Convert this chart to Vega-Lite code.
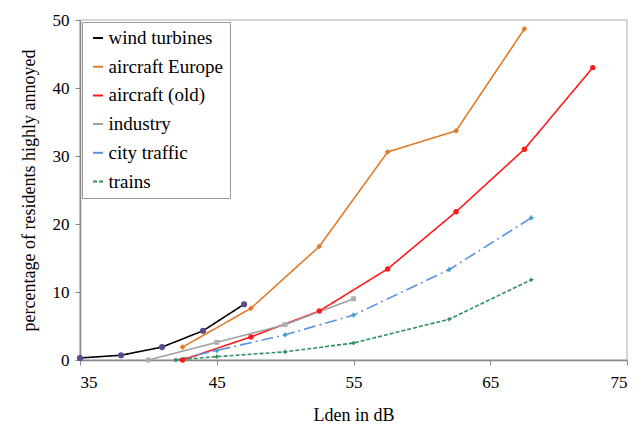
{
  "$schema": "https://vega.github.io/schema/vega-lite/v6.json",
  "width": 547,
  "height": 340,
  "autosize": {"type": "none"},
  "padding": {"left": 80, "top": 20, "right": 17, "bottom": 67},
  "background": "white",
  "config": {
    "font": "Liberation Serif",
    "view": {"stroke": "#c8c8c8", "strokeWidth": 1.5},
    "axis": {
      "labelFont": "Liberation Serif",
      "titleFont": "Liberation Serif",
      "labelFontSize": 17,
      "titleFontSize": 18,
      "titleFontWeight": "normal",
      "labelColor": "#000",
      "titleColor": "#000",
      "domainColor": "#888",
      "domainWidth": 1.5,
      "tickColor": "#888",
      "tickSize": 5,
      "grid": false
    },
    "legend": {
      "labelFont": "Liberation Serif",
      "labelFontSize": 19,
      "labelColor": "#000"
    }
  },
  "resolve": {"legend": {"shape": "independent", "fill": "independent", "size": "independent", "strokeWidth": "independent"}},
  "data": {
    "values": [
      {"series": "wind turbines", "x": 35, "y": 0.3},
      {"series": "wind turbines", "x": 38, "y": 0.7},
      {"series": "wind turbines", "x": 41, "y": 1.9},
      {"series": "wind turbines", "x": 44, "y": 4.3},
      {"series": "wind turbines", "x": 47, "y": 8.2},
      {"series": "aircraft Europe", "x": 42.5, "y": 1.9},
      {"series": "aircraft Europe", "x": 47.5, "y": 7.6},
      {"series": "aircraft Europe", "x": 52.5, "y": 16.7},
      {"series": "aircraft Europe", "x": 57.5, "y": 30.6},
      {"series": "aircraft Europe", "x": 62.5, "y": 33.7},
      {"series": "aircraft Europe", "x": 67.5, "y": 48.7},
      {"series": "aircraft (old)", "x": 42.5, "y": 0},
      {"series": "aircraft (old)", "x": 47.5, "y": 3.4},
      {"series": "aircraft (old)", "x": 52.5, "y": 7.2},
      {"series": "aircraft (old)", "x": 57.5, "y": 13.4},
      {"series": "aircraft (old)", "x": 62.5, "y": 21.8},
      {"series": "aircraft (old)", "x": 67.5, "y": 31},
      {"series": "aircraft (old)", "x": 72.5, "y": 43},
      {"series": "industry", "x": 40, "y": 0},
      {"series": "industry", "x": 45, "y": 2.6},
      {"series": "industry", "x": 50, "y": 5.2},
      {"series": "industry", "x": 55, "y": 9},
      {"series": "city traffic", "x": 42, "y": 0},
      {"series": "city traffic", "x": 45, "y": 1.4},
      {"series": "city traffic", "x": 50, "y": 3.7},
      {"series": "city traffic", "x": 55, "y": 6.6},
      {"series": "city traffic", "x": 62, "y": 13.3},
      {"series": "city traffic", "x": 68, "y": 20.9},
      {"series": "trains", "x": 42, "y": 0},
      {"series": "trains", "x": 45, "y": 0.5},
      {"series": "trains", "x": 50, "y": 1.2},
      {"series": "trains", "x": 55, "y": 2.5},
      {"series": "trains", "x": 62, "y": 6.0},
      {"series": "trains", "x": 68, "y": 11.8}
    ]
  },
  "encoding": {
    "x": {
      "field": "x", "type": "quantitative",
      "scale": {"domain": [35, 75], "nice": false, "zero": false},
      "axis": {"values": [35, 45, 55, 65, 75], "title": "Lden in dB", "labelFont": "Liberation Serif", "titleFont": "Liberation Serif", "labelPadding": 9, "titlePadding": 16}
    },
    "y": {
      "field": "y", "type": "quantitative",
      "scale": {"domain": [0, 50], "nice": false},
      "axis": {"values": [0, 10, 20, 30, 40, 50], "title": "percentage of residents highly annoyed", "labelFont": "Liberation Serif", "titleFont": "Liberation Serif", "labelPadding": 6, "titlePadding": 14}
    }
  },
  "layer": [
    {
      "mark": {"type": "line", "strokeWidth": 1.6},
      "encoding": {
        "color": {
          "field": "series", "type": "nominal",
          "scale": {
            "domain": ["wind turbines", "aircraft Europe", "aircraft (old)", "industry", "city traffic", "trains"],
            "range": ["#000000", "#e07b2a", "#ff1a1a", "#a0a0a0", "#5b93e0", "#2e9060"]
          },
          "legend": {
            "title": null,
            "orient": "none",
            "legendX": 2,
            "legendY": 2,
            "labelFont": "Liberation Serif",
            "symbolType": "stroke",
            "symbolSize": 100,
            "symbolStrokeWidth": 2,
            "strokeColor": "#999",
            "fillColor": "white",
            "padding": 6.5,
            "rowPadding": 8.7,
            "labelOffset": 1,
            "encode": {"symbols": {"update": {"shape": {"value": "stroke"}, "fill": {"value": "transparent"}}}}
          }
        },
        "strokeDash": {
          "field": "series", "type": "nominal",
          "scale": {
            "domain": ["wind turbines", "aircraft Europe", "aircraft (old)", "industry", "city traffic", "trains"],
            "range": [[1, 0], [1, 0], [1, 0], [1, 0], [12, 4, 2, 4], [4, 2]]
          },
          "legend": {
            "title": null,
            "orient": "none",
            "legendX": 2,
            "legendY": 2,
            "labelFont": "Liberation Serif"
          }
        },
        "strokeWidth": {
          "field": "series", "type": "nominal",
          "scale": {
            "domain": ["wind turbines", "aircraft Europe", "aircraft (old)", "industry", "city traffic", "trains"],
            "range": [2.6, 1.6, 1.6, 1.6, 1.6, 1.8]
          },
          "legend": null
        }
      }
    },
    {
      "mark": {"type": "point", "filled": true, "opacity": 1},
      "encoding": {
        "fill": {
          "field": "series", "type": "nominal",
          "scale": {
            "domain": ["wind turbines", "aircraft Europe", "aircraft (old)", "industry", "city traffic", "trains"],
            "range": ["#5a4a8c", "#e07b2a", "#ff1a1a", "#b0b0b0", "#3aa0c8", "#2e9060"]
          },
          "legend": null
        },
        "shape": {
          "field": "series", "type": "nominal",
          "scale": {
            "domain": ["wind turbines", "aircraft Europe", "aircraft (old)", "industry", "city traffic", "trains"],
            "range": ["circle", "diamond", "circle", "square", "cross", "cross"]
          },
          "legend": null
        },
        "size": {
          "field": "series", "type": "nominal",
          "scale": {
            "domain": ["wind turbines", "aircraft Europe", "aircraft (old)", "industry", "city traffic", "trains"],
            "range": [38, 16, 14, 26, 14, 18]
          },
          "legend": null
        }
      }
    }
  ]
}
